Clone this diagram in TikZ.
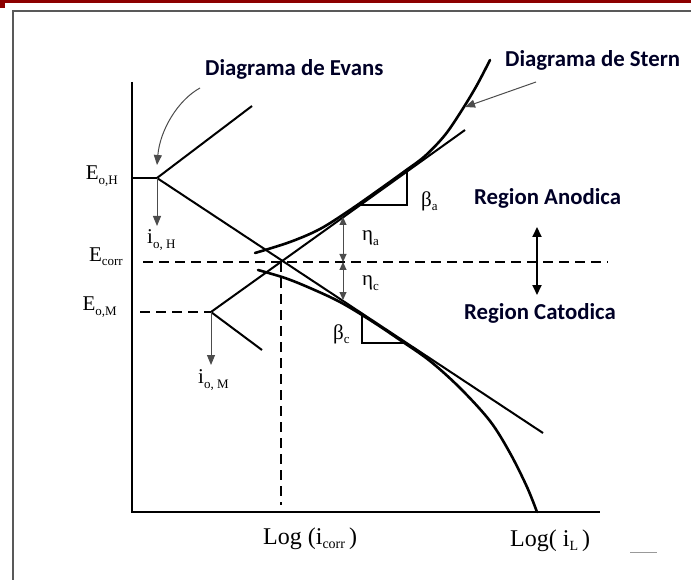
\documentclass[tikz,border=0pt]{standalone}
\usepackage{fontspec}
\setmainfont{Liberation Serif}
\newfontfamily\lblfont{Carlito}
\usetikzlibrary{arrows.meta}
\newcommand{\mysub}[1]{\raisebox{-0.45ex}{\fontsize{13}{13}\selectfont #1}}
\newcommand{\bigsub}[1]{\raisebox{-0.45ex}{\fontsize{14}{14}\selectfont #1}}
\begin{document}
\begin{tikzpicture}[x=1pt,y=-1pt,
  ax/.style={line width=2pt},
  ev/.style={line width=2pt},
  st/.style={line width=2.6pt, line cap=round, line join=round},
  thn/.style={line width=1pt, draw=black!70},
  tip/.style={-{Triangle[length=10pt,width=8pt]}},
  dtip/.style={{Triangle[length=8pt,width=7pt]}-{Triangle[length=8pt,width=7pt]}},
  dsh/.style={line width=2pt, dash pattern=on 10pt off 6pt},
  lab/.style={font=\lblfont\bfseries\fontsize{22.8}{22.8}\selectfont, text=black!85!blue, inner sep=0pt},
  srf/.style={font=\fontsize{21}{21}\selectfont, inner sep=0pt},
  big/.style={font=\fontsize{24}{24}\selectfont, inner sep=0pt},
]
\useasboundingbox (0,0) rectangle (691,580);
% frame and top bar
\fill[red!55!black] (0,0) rectangle (691,3);
\fill[red!55!black] (0,0) rectangle (5,8);
\draw[line width=2pt, draw=black!65] (691,11) -- (13,11) -- (13,580);
\draw[line width=1pt, draw=black!40] (630,552) -- (657,552);

% coordinates
\coordinate (axT) at (132,82);
\coordinate (ax0) at (132,512);
\coordinate (axR) at (600,512);
\coordinate (eH) at (132,178);
\coordinate (vH) at (157,178);
\coordinate (vM) at (211,312);
\coordinate (HupE) at (252,106);
\coordinate (HcE) at (543,433);
\coordinate (MaE) at (465,130);
\coordinate (MlE) at (262,350);
\coordinate (X) at (281,262);
\coordinate (Xb) at (281,505);
\coordinate (eM) at (140,312);
\coordinate (ec0) at (143,262);
\coordinate (ec1) at (608,262);

% axes
\draw[ax] (axT) -- (ax0) -- (axR);

% Evans lines
\draw[ev] (eH) -- (vH);
\draw[ev] (HupE) -- (vH) -- (HcE);
\draw[ev] (MlE) -- (vM) -- (MaE);
\draw[dsh] (eM) -- (vM);
\draw[dsh] (ec0) -- (ec1);
\draw[dsh] (X) -- (Xb);

% exchange current arrows
\coordinate (aH) at (157,226);
\coordinate (aM) at (211,365);
\draw[thn, tip] (vH) -- (aH);
\draw[thn, tip] (vM) -- (aM);

% Stern curves
\draw[st] plot[smooth, tension=0.55] coordinates {(255,253) (290,242) (320,229) (350,210) (380,189) (405,171) (425,156) (445,135) (462,110) (477,85) (490,60)};
\draw[st] plot[smooth, tension=0.55] coordinates {(258,270) (285,278) (310,288) (340,302) (370,320) (400,340) (430,361) (460,388) (490,421) (510,453) (527,487) (537,512)};

% overpotential arrows
\coordinate (na) at (343,217);
\coordinate (n0) at (343,262);
\coordinate (nc) at (343,300);
\draw[thn, dtip] (na) -- (n0);
\draw[thn, dtip] (n0) -- (nc);

% Tafel triangles
\draw[line width=1.2pt] (360,205) -- (407,205) -- (407,171.5);
\draw[line width=1.2pt] (362,313) -- (362,343) -- (407,343);

% region arrow
\coordinate (r1) at (537,227);
\coordinate (r2) at (537,295);
\draw[line width=2pt, {Triangle[length=10pt,width=9pt]}-{Triangle[length=10pt,width=9pt]}] (r1) -- (r2);

% labels
\node[lab, anchor=west] (evans) at (205,69) {Diagrama de Evans};
\node[lab, anchor=west] (stern) at (505,60) {Diagrama de Stern};
\node[lab, anchor=west] (ran) at (474,198) {Region Anodica};
\node[lab, anchor=west] (rca) at (464,313) {Region Catodica};

\coordinate (evA) at (200,88);
\coordinate (evB) at (157,165);
\draw[thn, tip] (evA) .. controls (178,100) and (160,130) .. (evB);
\coordinate (stA) at (536,82);
\coordinate (stB) at (465,107);
\draw[thn, tip] (stA) -- (stB);

\node[srf, anchor=east] (lEoH) at (118,176) {E\mysub{o,H}};
\node[srf, anchor=east] (lEc) at (123,257) {E\mysub{corr}};
\node[srf, anchor=east] (lEoM) at (117,307) {E\mysub{o,M}};
\node[srf, anchor=west] (liH) at (147,240) {i\mysub{o, H}};
\node[srf, anchor=west] (liM) at (198,380) {i\mysub{o, M}};
\node[srf, anchor=west] (lba) at (421,201) {β\mysub{a}};
\node[srf, anchor=west] (lna) at (362,238) {η\mysub{a}};
\node[srf, anchor=west] (lnc) at (362,283) {η\mysub{c}};
\node[srf, anchor=west] (lbc) at (333,334) {β\mysub{c}};
\node[big, anchor=base west] (lic) at (263,544) {Log (i\bigsub{corr}\,)};
\node[big, anchor=base west] (liL) at (510,546) {Log( i\bigsub{L}\,)};
\end{tikzpicture}
\end{document}
